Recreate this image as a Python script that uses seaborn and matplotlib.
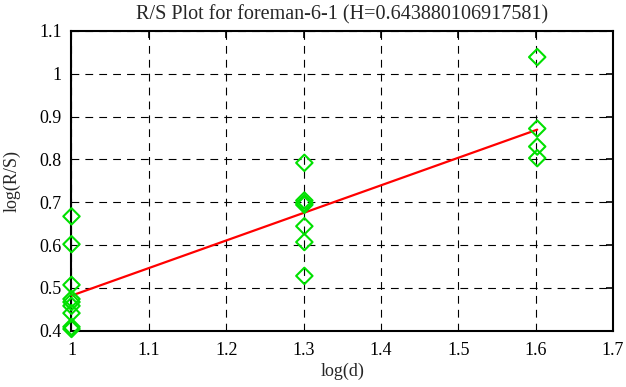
import numpy as np
import pandas as pd
import matplotlib
matplotlib.use("Agg")
import matplotlib.pyplot as plt
import seaborn as sns

H = 0.643880106917581
intercept = -0.162

log_d = [1.0]*9 + [1.30103]*7 + [1.60206]*4
log_rs = [0.667, 0.602, 0.507, 0.474, 0.467, 0.458, 0.441, 0.409, 0.404,
          0.792, 0.704, 0.698, 0.694, 0.644, 0.607, 0.528,
          1.039, 0.872, 0.830, 0.803]
fit_x = [1.0, 1.60206]

xticks = [1, 1.1, 1.2, 1.3, 1.4, 1.5, 1.6, 1.7]
xlabels = ["1", "1.1", "1.2", "1.3", "1.4", "1.5", "1.6", "1.7"]
yticks = [0.4, 0.5, 0.6, 0.7, 0.8, 0.9, 1.0, 1.1]
ylabels = ["0.4", "0.5", "0.6", "0.7", "0.8", "0.9", "1", "1.1"]

sns.set_style("white")
plt.rcParams['font.family'] = ['Liberation Serif', 'DejaVu Serif']

df = pd.DataFrame({"x": log_d, "y": log_rs})
fit = pd.DataFrame({"x": fit_x, "y": [H*v + intercept for v in fit_x]})

fig = plt.figure(figsize=(6.26, 3.87), dpi=100)
ax = fig.add_axes([0.1142, 0.1455, 0.865, 0.7745])

ax.grid(True, color='black', linestyle=(0, (7, 5.5)), linewidth=0.8)
sns.lineplot(data=fit, x="x", y="y", ax=ax, color='#ff0000', linewidth=1.6, zorder=3)
sns.scatterplot(data=df, x="x", y="y", ax=ax, marker='D', s=70,
                facecolor='none', edgecolor='#00e000', linewidth=1.5, zorder=4, clip_on=False)

ax.set_xlim(1, 1.7)
ax.set_ylim(0.4, 1.1)
ax.set_xticks(xticks)
ax.set_xticklabels(xlabels)
ax.set_yticks(yticks)
ax.set_yticklabels(ylabels)
ax.tick_params(direction='in', length=5, width=1.2, top=True, right=True,
               labelsize=13, colors='black')
ax.tick_params(axis='x', pad=8.5)
ax.tick_params(axis='y', pad=7)
for s in ax.spines.values():
    s.set_visible(True)
    s.set_color('black')
    s.set_linewidth(1.5)
ax.set_xlabel("log(d)", fontsize=13, labelpad=2)
ax.set_ylabel("log(R/S)", fontsize=13, labelpad=13)
ax.set_title("R/S Plot for foreman-6-1 (H=0.643880106917581)", fontsize=14.5, pad=8.5)

fig.savefig("out.png", dpi=100)
